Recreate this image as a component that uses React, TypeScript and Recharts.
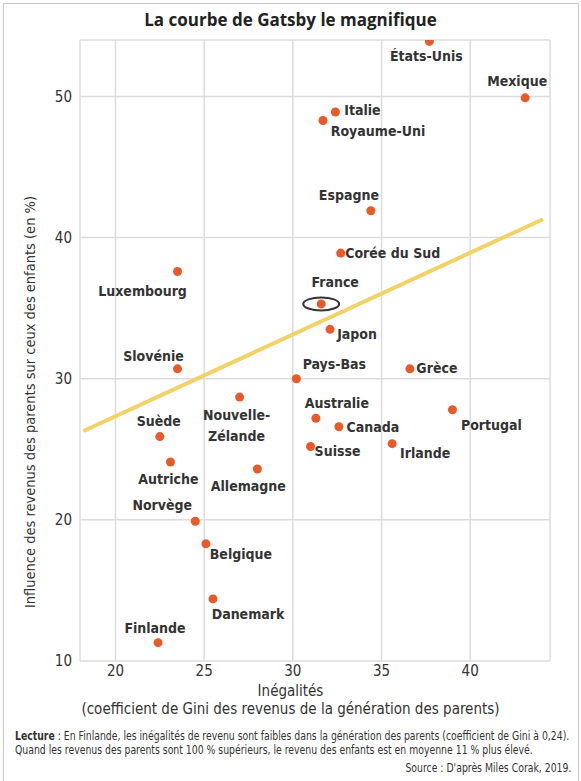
import React from "react";
import {
  ScatterChart,
  Scatter,
  XAxis,
  YAxis,
  CartesianGrid,
  ReferenceLine,
} from "recharts";

// Countries, Gini of parents' generation (x) and parent->child income elasticity in % (y)
const countries = [
  "États-Unis", "Mexique", "Italie", "Royaume-Uni", "Espagne", "Corée du Sud",
  "Luxembourg", "France", "Japon", "Slovénie", "Pays-Bas", "Grèce",
  "Nouvelle-Zélande", "Australie", "Portugal", "Canada", "Suède", "Suisse",
  "Irlande", "Autriche", "Allemagne", "Norvège", "Belgique", "Danemark", "Finlande",
];
const gini = [
  37.7, 43.1, 32.4, 31.7, 34.4, 32.7,
  23.5, 31.6, 32.1, 23.5, 30.2, 36.6,
  27.0, 31.3, 39.0, 32.6, 22.5, 31.0,
  35.6, 23.1, 28.0, 24.5, 25.1, 25.5, 22.4,
];
const influence = [
  53.9, 49.9, 48.9, 48.3, 41.9, 38.9,
  37.6, 35.3, 33.5, 30.7, 30.0, 30.7,
  28.7, 27.2, 27.8, 26.6, 25.9, 25.2,
  25.4, 24.1, 23.6, 19.9, 18.3, 14.4, 11.3,
];
const xTicks = [20, 25, 30, 35, 40];
const yTicks = [10, 20, 30, 40, 50];
const trendX = [18.2, 44.1];
const trendY = [26.3, 41.3];
const highlighted = "France";

const data = countries.map((name, i) => ({ name, x: gini[i], y: influence[i] }));

// label placement relative to the dot (text centre offset, px)
const LABEL_OFFSETS: Record<string, [number, number]> = {
  "États-Unis": [-3, 15],
  Mexique: [-8, -17],
  Italie: [27, -2],
  "Royaume-Uni": [55, 11],
  Espagne: [-22, -16],
  "Corée du Sud": [52, 0],
  Luxembourg: [-35, 20],
  France: [14, -22],
  Japon: [27, 5],
  "Slovénie": [-24, -13],
  "Pays-Bas": [38, -15],
  "Grèce": [27, -1],
  "Nouvelle-Zélande": [-3, 18],
  Australie: [21, -15],
  Portugal: [39, 15],
  Canada: [34, 0],
  "Suède": [-1, -16],
  Suisse: [27, 5],
  Irlande: [33, 9],
  Autriche: [-2, 17],
  Allemagne: [-9, 17],
  "Norvège": [-33, -16],
  Belgique: [35, 10],
  Danemark: [35, 15],
  Finlande: [-3, -15],
};
const LABEL_LINES: Record<string, string[]> = {
  "Nouvelle-Zélande": ["Nouvelle-", "Zélande"],
};

const FONT = "'DejaVu Sans Condensed', 'Liberation Sans', sans-serif";
const TEXT = "#333333";
const DOT = "#E85A2A";
const TREND = "#F2D165";
const GRID = "#DCDCDC";

function CountryDot(props: any) {
  const { cx, cy, payload } = props;
  if (cx == null || cy == null) return null;
  const [dx, dy] = LABEL_OFFSETS[payload.name] ?? [0, -14];
  const lines = LABEL_LINES[payload.name] ?? [payload.name];
  return (
    <g>
      {payload.name === highlighted && (
        <ellipse cx={cx} cy={cy} rx={18} ry={6.5} fill="none" stroke="#333" strokeWidth={2} />
      )}
      <circle cx={cx} cy={cy} r={4.5} fill={DOT} />
      {lines.map((l, i) => (
        <text
          key={i}
          x={cx + dx}
          y={cy + dy + i * 21}
          textAnchor="middle"
          dominantBaseline="central"
          fontFamily={FONT}
          fontWeight="bold"
          fontSize={14}
          fill={TEXT}
        >
          {l}
        </text>
      ))}
    </g>
  );
}

const TICK = { fontSize: 15, fill: TEXT, fontFamily: FONT } as const;

export default function App() {
  return (
    <div
      style={{
        position: "absolute",
        left: 0,
        top: 0,
        width: 581,
        height: 781,
        background: "#fff",
        fontFamily: FONT,
        color: TEXT,
        overflow: "hidden",
      }}
    >
      <div
        style={{
          position: "absolute",
          left: 3,
          top: 3,
          width: 574,
          height: 790,
          border: "1.5px solid #c8c8c8",
        }}
      />
      <div
        style={{
          position: "absolute",
          top: 8,
          left: 0,
          width: 581,
          textAlign: "center",
          fontFamily: "'Open Sans', sans-serif",
          fontWeight: "bold",
          fontSize: 17,
          color: "#222",
        }}
      >
        La courbe de Gatsby le magnifique
      </div>

      <div style={{ position: "absolute", left: 0, top: 0 }}>
        <ScatterChart
          width={581}
          height={681}
          margin={{ top: 40, right: 31, bottom: 0, left: 40 }}
        >
          <CartesianGrid stroke={GRID} strokeWidth={1.5} />
          <XAxis
            type="number"
            dataKey="x"
            domain={[18, 44.5]}
            ticks={xTicks}
            tick={TICK}
            axisLine={false}
            tickLine={false}
            tickMargin={-2}
            height={20}
            allowDataOverflow
          />
          <YAxis
            type="number"
            dataKey="y"
            domain={[10, 54]}
            ticks={yTicks}
            tick={TICK}
            axisLine={false}
            tickLine={false}
            width={40}
            allowDataOverflow
          />
          <ReferenceLine
            segment={[
              { x: trendX[0], y: trendY[0] },
              { x: trendX[1], y: trendY[1] },
            ]}
            stroke={TREND}
            strokeWidth={4}
          />
          <Scatter data={data} shape={CountryDot} isAnimationActive={false} />
        </ScatterChart>
      </div>

      <div
        style={{
          position: "absolute",
          left: 30,
          top: 402,
          transform: "translate(-50%, -50%) rotate(-90deg)",
          whiteSpace: "nowrap",
          fontSize: 14.5,
        }}
      >
        Influence des revenus des parents sur ceux des enfants (en %)
      </div>

      <div
        style={{
          position: "absolute",
          left: 0,
          width: 581,
          top: 682,
          textAlign: "center",
          fontSize: 15,
          lineHeight: "18px",
        }}
      >
        Inégalités
        <br />
        (coefficient de Gini des revenus de la génération des parents)
      </div>

      <div
        style={{
          position: "absolute",
          left: 15,
          top: 729,
          fontSize: 11.5,
          lineHeight: "14px",
          whiteSpace: "nowrap",
          transform: "scaleX(0.9)",
          transformOrigin: "left top",
        }}
      >
        <b>Lecture</b> : En Finlande, les inégalités de revenu sont faibles dans la génération des
        parents (coefficient de Gini à 0,24).
        <br />
        Quand les revenus des parents sont 100 % supérieurs, le revenu des enfants est en moyenne
        11 % plus élevé.
      </div>
      <div
        style={{
          position: "absolute",
          right: 10,
          top: 761,
          fontSize: 11.5,
          whiteSpace: "nowrap",
          transform: "scaleX(0.9)",
          transformOrigin: "right top",
        }}
      >
        Source : D'après Miles Corak, 2019.
      </div>
    </div>
  );
}
